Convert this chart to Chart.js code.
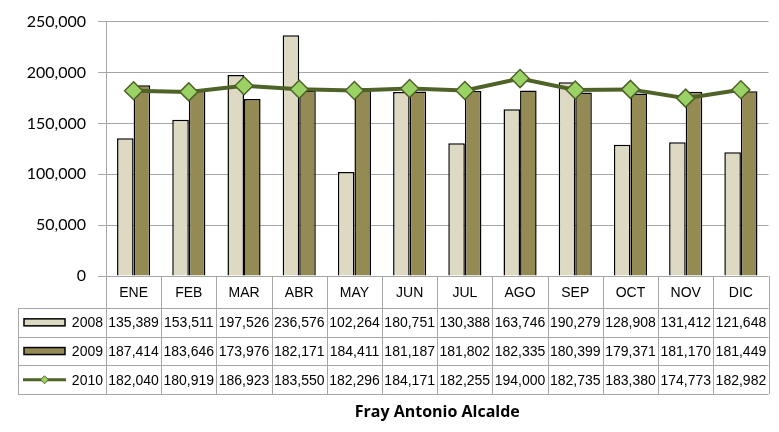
<!DOCTYPE html>
<html>
<head>
<meta charset="utf-8">
<script src="https://cdn.jsdelivr.net/npm/chart.js@4.4.0/dist/chart.umd.min.js"></script>
<style>
body { margin: 0; background: #fff; }
#contenedor { width: 779px; height: 432px; }
</style>
</head>
<body>
<div id="contenedor"><canvas id="grafica"></canvas></div>
<script>
var meses = ['ENE', 'FEB', 'MAR', 'ABR', 'MAY', 'JUN', 'JUL', 'AGO', 'SEP', 'OCT', 'NOV', 'DIC'];
var series = ['2008', '2009', '2010'];
var datos2008 = [135389, 153511, 197526, 236576, 102264, 180751, 130388, 163746, 190279, 128908, 131412, 121648];
var datos2009 = [187414, 183646, 173976, 182171, 184411, 181187, 181802, 182335, 180399, 179371, 181170, 181449];
var datos2010 = [182040, 180919, 186923, 183550, 182296, 184171, 182255, 194000, 182735, 183380, 174773, 182982];
var ticksY = [0, 50000, 100000, 150000, 200000, 250000];
var titulo = 'Fray Antonio Alcalde';

var colores = {
    c2008: '#ddd9c3',
    c2009: '#948a54',
    linea: '#4f6228',
    punto: '#9bd266',
    rejilla: '#a6a6a6'
};

function formato(n) {
    return n.toLocaleString('en-US');
}

// tabla de datos debajo del eje x, y el titulo centrado en el area
var tablaDatos = {
    id: 'tablaDatos',
    afterDraw: function (chart) {
        var ctx = chart.ctx;
        var area = chart.chartArea;
        var x = chart.scales.x;
        var ancho = x.getPixelForValue(1) - x.getPixelForValue(0);
        var arriba = area.bottom;
        var altoCab = 32;
        var altoFila = 28.7;
        var izq = 18;
        var abajo = arriba + altoCab + altoFila * 3;

        ctx.save();
        ctx.strokeStyle = colores.rejilla;
        ctx.lineWidth = 1;
        ctx.beginPath();
        for (var i = 0; i <= meses.length; i++) {
            var xx = Math.round(area.left + i * ancho) + 0.5;
            ctx.moveTo(xx, arriba);
            ctx.lineTo(xx, abajo);
        }
        ctx.moveTo(izq + 0.5, arriba + altoCab);
        ctx.lineTo(izq + 0.5, abajo);
        for (var f = 0; f <= 3; f++) {
            var yy = Math.round(arriba + altoCab + f * altoFila) + 0.5;
            ctx.moveTo(izq, yy);
            ctx.lineTo(area.right, yy);
        }
        ctx.stroke();

        ctx.fillStyle = '#000';
        ctx.font = '14px "Liberation Sans", Arial, sans-serif';
        ctx.textAlign = 'center';
        ctx.textBaseline = 'middle';
        var filas = [datos2008, datos2009, datos2010];
        for (var j = 0; j < meses.length; j++) {
            var cx = x.getPixelForValue(j);
            ctx.fillText(meses[j], cx, arriba + altoCab / 2 + 1);
            for (var k = 0; k < filas.length; k++) {
                ctx.fillText(formato(filas[k][j]), cx, arriba + altoCab + altoFila * (k + 0.5) + 1);
            }
        }

        // claves de la leyenda
        ctx.textAlign = 'right';
        for (var s = 0; s < series.length; s++) {
            var cy = arriba + altoCab + altoFila * (s + 0.5);
            ctx.fillStyle = '#000';
            ctx.fillText(series[s], area.left - 3, cy + 1);
            if (s < 2) {
                ctx.fillStyle = s === 0 ? colores.c2008 : colores.c2009;
                ctx.fillRect(24, cy - 3.5, 41, 7);
                ctx.strokeStyle = '#000';
                ctx.lineWidth = 1.5;
                ctx.strokeRect(24, cy - 3.5, 41, 7);
            } else {
                ctx.strokeStyle = colores.linea;
                ctx.lineWidth = 3;
                ctx.beginPath();
                ctx.moveTo(23, cy);
                ctx.lineTo(66, cy);
                ctx.stroke();
                ctx.fillStyle = colores.punto;
                ctx.lineWidth = 1;
                ctx.beginPath();
                ctx.moveTo(44.5, cy - 4);
                ctx.lineTo(48.5, cy);
                ctx.lineTo(44.5, cy + 4);
                ctx.lineTo(40.5, cy);
                ctx.closePath();
                ctx.fill();
                ctx.stroke();
            }
        }

        ctx.fillStyle = '#000';
        ctx.textAlign = 'center';
        ctx.font = 'bold 16px "Open Sans", sans-serif';
        ctx.fillText(titulo, (area.left + area.right) / 2, abajo + 18);
        ctx.restore();
    }
};

var ctx = document.getElementById('grafica').getContext('2d');

var grafica = new Chart(ctx, {
    type: 'bar',
    data: {
        labels: meses,
        datasets: [{
            label: series[0],
            data: datos2008,
            backgroundColor: colores.c2008,
            borderColor: '#000',
            borderWidth: 1.5,
            order: 2
        }, {
            label: series[1],
            data: datos2009,
            backgroundColor: colores.c2009,
            borderColor: '#000',
            borderWidth: 1.5,
            order: 2
        }, {
            type: 'line',
            label: series[2],
            data: datos2010,
            borderColor: colores.linea,
            borderWidth: 4,
            pointStyle: 'rectRot',
            pointRadius: 9,
            pointBackgroundColor: colores.punto,
            pointBorderColor: colores.linea,
            pointBorderWidth: 1.5,
            tension: 0,
            order: 1
        }]
    },
    options: {
        responsive: true,
        maintainAspectRatio: false,
        animation: false,
        layout: { padding: { top: 19, right: 5, left: 0, bottom: 156 } },
        datasets: {
            bar: { categoryPercentage: 0.6, barPercentage: 1.0 }
        },
        plugins: {
            legend: { display: false },
            tooltip: { enabled: false },
            title: { display: false }
        },
        scales: {
            x: {
                ticks: { display: false },
                grid: { display: false },
                border: { display: false },
                afterFit: function (scale) { scale.height = 0; }
            },
            y: {
                min: 0,
                max: 250000,
                afterBuildTicks: function (scale) {
                    scale.ticks = ticksY.map(function (v) { return { value: v }; });
                },
                ticks: {
                    color: '#000',
                    font: { family: 'Lato', size: 16 },
                    padding: 12,
                    callback: function (v) { return formato(v); }
                },
                grid: { color: colores.rejilla, lineWidth: 1, tickLength: 8 },
                border: { color: colores.rejilla },
                afterFit: function (scale) { scale.width = 106; }
            }
        }
    },
    plugins: [tablaDatos]
});
</script>
</body>
</html>
